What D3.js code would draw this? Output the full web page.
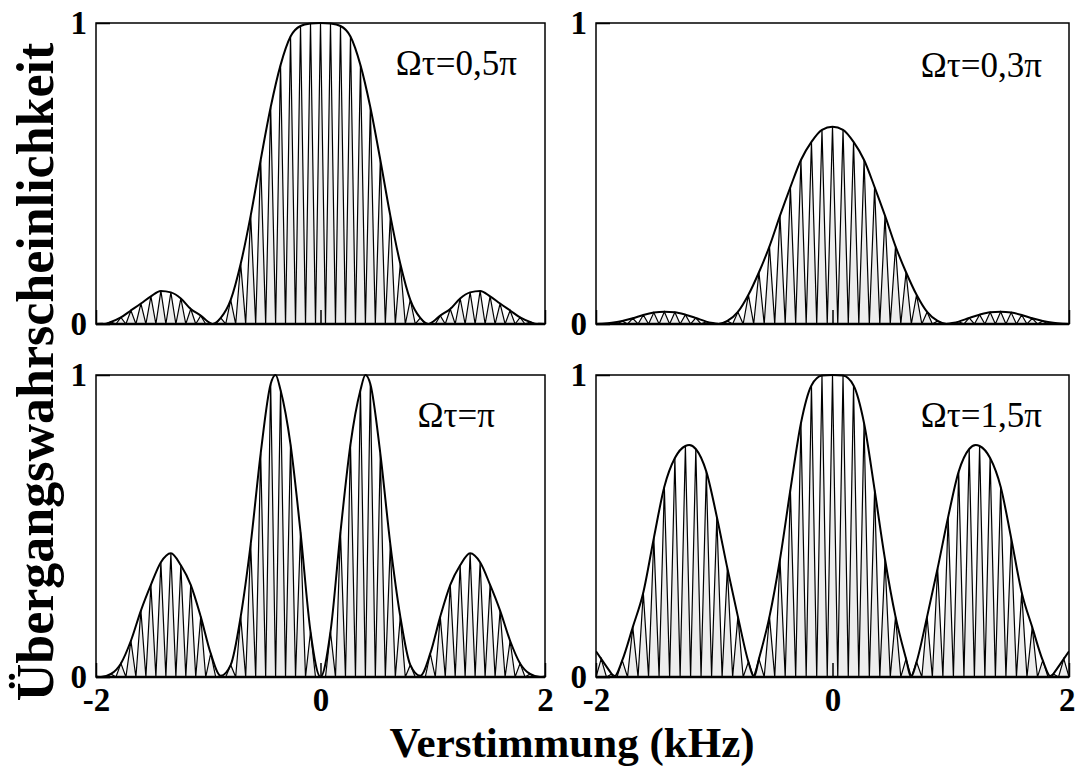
<!DOCTYPE html>
<html>
<head>
<meta charset="utf-8">
<script src="https://cdn.jsdelivr.net/npm/d3@7"></script>
<style>
  body { margin: 0; background: #fff; }
  svg text { font-family: "Liberation Serif", "Times New Roman", serif; }
</style>
</head>
<body>
<svg id="chart" width="1075" height="769"></svg>
<script>

// Tick values shared by all four panels.
var xTicks = [-2, 0, 2];
var yTicks = [0, 1];

// Detuning (kHz) of the fringe maxima, right half only.
// Every curve in the figure is symmetric about zero detuning.
var fringeHalfX = [0, 0.089, 0.178, 0.267, 0.356, 0.444, 0.533, 0.622, 0.711,
  0.8, 0.889, 0.978, 1.067, 1.156, 1.244, 1.333, 1.422, 1.511, 1.6, 1.689,
  1.778, 1.867, 1.956];

// Height of each fringe maximum, per pulse area.
var peaks05 = [1.0, 0.998, 0.99, 0.955, 0.86, 0.72, 0.545, 0.36, 0.2, 0.08,
  0.02, 0.002, 0.028, 0.05, 0.085, 0.105, 0.11, 0.092, 0.068, 0.045, 0.022,
  0.007, 0.001];
var peaks03 = [0.655, 0.645, 0.605, 0.545, 0.455, 0.36, 0.258, 0.172, 0.097,
  0.04, 0.01, 0.001, 0.008, 0.02, 0.031, 0.039, 0.041, 0.038, 0.03, 0.019,
  0.01, 0.004, 0.001];
var peaks10 = [0, 0.15, 0.48, 0.77, 0.95, 0.97, 0.74, 0.44, 0.2, 0.04, 0.004,
  0.078, 0.2, 0.305, 0.37, 0.41, 0.38, 0.305, 0.22, 0.12, 0.045, 0.01, 0];
var peaks15 = [1.0, 0.998, 0.965, 0.84, 0.62, 0.39, 0.2, 0.06, 0.05, 0.2,
  0.36, 0.53, 0.68, 0.755, 0.765, 0.725, 0.63, 0.46, 0.28, 0.165, 0.055, 0.01,
  0.06];

// Extra envelope points (zeros, lobe tops, edge value) between the fringes.
var extra05 = [[0.96, 0], [1.93, 0], [2, 0]];
var extra03 = [[0.966, 0], [2, 0]];
var extra10 = [[0.4, 1.0], [2, 0.002]];
var extra15 = [[0.664, 0], [1.211, 0.768], [1.848, 0], [2, 0.085]];

var panelLabels = ['Ωτ=0,5π', 'Ωτ=0,3π', 'Ωτ=π', 'Ωτ=1,5π'];

// Layout of the four plot areas (pixels).
var layout = [
  {left: 96,  top: 23,  right: 545,  bottom: 324, xLabels: false, labelX: 517,  labelY: 75},
  {left: 596, top: 23,  right: 1069, bottom: 324, xLabels: false, labelX: 1042, labelY: 77},
  {left: 96,  top: 375, right: 545,  bottom: 677, xLabels: true,  labelX: 495,  labelY: 427},
  {left: 596, top: 375, right: 1069, bottom: 677, xLabels: true,  labelX: 1042, labelY: 427}
];

var peakSets = [peaks05, peaks03, peaks10, peaks15];
var extraSets = [extra05, extra03, extra10, extra15];

// Mirror a right-half list of [x, y] points onto negative detuning.
function mirror(half) {
  var left = half.filter(function(p) { return p[0] > 0; })
    .map(function(p) { return [-p[0], p[1]]; })
    .reverse();
  return left.concat(half);
}

var svg = d3.select('#chart');

layout.forEach(function(box, i) {

  var x = d3.scaleLinear().domain([-2, 2]).range([box.left, box.right]);
  var y = d3.scaleLinear().domain([0, 1]).range([box.bottom, box.top]);

  var peaks = mirror(fringeHalfX.map(function(d, j) { return [d, peakSets[i][j]]; }));

  // Envelope goes through the fringe maxima plus the extra points.
  var envelope = mirror(fringeHalfX.map(function(d, j) { return [d, peakSets[i][j]]; })
    .concat(extraSets[i]).sort(function(a, b) { return a[0] - b[0]; }));

  // Fringes: zero between neighbouring maxima.
  var fringe = [[-2, 0]];
  peaks.forEach(function(p, j) {
    if (j > 0) fringe.push([(peaks[j - 1][0] + p[0]) / 2, 0]);
    fringe.push(p);
  });
  fringe.push([2, 0]);

  var g = svg.append('g');

  var clipId = 'clip' + i;
  g.append('clipPath').attr('id', clipId)
    .append('rect')
    .attr('x', box.left).attr('y', box.top - 2)
    .attr('width', box.right - box.left).attr('height', box.bottom - box.top + 2);

  var plot = g.append('g').attr('clip-path', 'url(#' + clipId + ')');

  plot.append('path')
    .datum(fringe)
    .attr('d', d3.area().x(function(d) { return x(d[0]); })
      .y0(y(0)).y1(function(d) { return y(d[1]); }))
    .attr('fill', '#ededed');

  plot.append('path')
    .datum(fringe)
    .attr('d', d3.line().x(function(d) { return x(d[0]); }).y(function(d) { return y(d[1]); }))
    .attr('fill', 'none')
    .attr('stroke', '#000')
    .attr('stroke-width', 1.2);

  plot.append('path')
    .datum(envelope)
    .attr('d', d3.line().curve(d3.curveMonotoneX)
      .x(function(d) { return x(d[0]); }).y(function(d) { return y(d[1]); }))
    .attr('fill', 'none')
    .attr('stroke', '#000')
    .attr('stroke-width', 2);

  // Frame, with a heavier baseline.
  g.append('rect')
    .attr('x', box.left).attr('y', box.top)
    .attr('width', box.right - box.left).attr('height', box.bottom - box.top)
    .attr('fill', 'none').attr('stroke', '#000').attr('stroke-width', 1.5);
  g.append('line')
    .attr('x1', box.left).attr('x2', box.right)
    .attr('y1', y(0)).attr('y2', y(0))
    .attr('stroke', '#000').attr('stroke-width', 2.5);

  // Axes with inward ticks.
  var xAxis = g.append('g')
    .attr('transform', 'translate(0,' + box.bottom + ')')
    .call(d3.axisBottom(x).tickValues(xTicks).tickSizeInner(-14).tickSizeOuter(0)
      .tickPadding(11).tickFormat(function(d) { return d < 0 ? '-' + (-d) : String(d); }));
  var yAxis = g.append('g')
    .attr('transform', 'translate(' + box.left + ',0)')
    .call(d3.axisLeft(y).tickValues(yTicks).tickSizeInner(-14).tickSizeOuter(0)
      .tickPadding(9).tickFormat(d3.format('d')));

  [xAxis, yAxis].forEach(function(a) {
    a.attr('font-family', null).attr('font-size', null);
    a.select('.domain').remove();
    a.selectAll('line').attr('stroke', '#000').attr('stroke-width', 1.5);
    a.selectAll('text')
      .attr('fill', '#000')
      .attr('font-weight', 'bold')
      .style('font-family', '"Liberation Serif", "Times New Roman", serif')
      .style('font-size', '33px')
      .style('font-weight', 'bold');
  });
  if (!box.xLabels) xAxis.selectAll('text').remove();

  // Keep the last label of the right panel inside the picture.
  xAxis.selectAll('text')
    .filter(function(d) { return d === 2 && box.right > 1000; })
    .attr('text-anchor', 'end').attr('x', 6);

  // Pulse area label.
  g.append('text')
    .attr('x', box.labelX).attr('y', box.labelY)
    .attr('text-anchor', 'end')
    .style('font-size', '35px')
    .text(panelLabels[i]);
});

// Axis titles.
svg.append('text')
  .attr('x', 572).attr('y', 757)
  .attr('text-anchor', 'middle')
  .style('font-size', '43px').style('font-weight', 'bold')
  .text('Verstimmung (kHz)');

svg.append('text')
  .attr('transform', 'translate(53,372) rotate(-90)')
  .attr('text-anchor', 'middle')
  .style('font-size', '52px').style('font-weight', 'bold')
  .text('Übergangswahrscheinlichkeit');

</script>
</body>
</html>
